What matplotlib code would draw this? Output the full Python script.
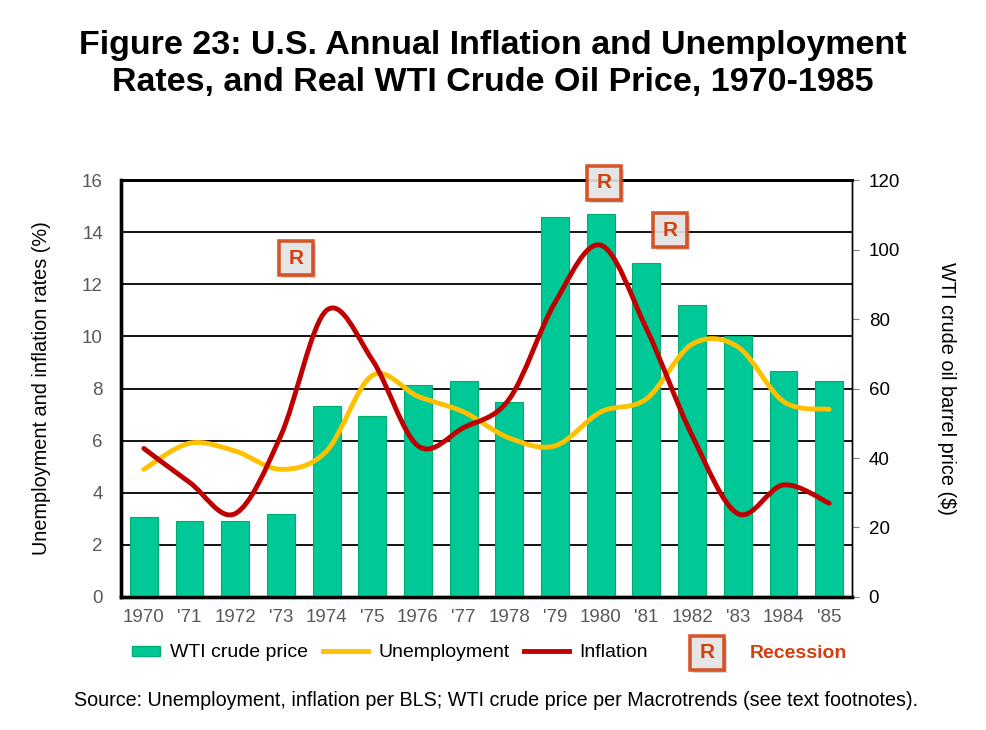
import numpy as np
import matplotlib
matplotlib.use("Agg")
import matplotlib.pyplot as plt
from matplotlib.path import Path
from matplotlib.patches import PathPatch, Rectangle
from matplotlib.lines import Line2D
from matplotlib.legend_handler import HandlerPatch
import matplotlib.transforms as mtransforms

plt.rcParams['font.family'] = ['Liberation Sans', 'DejaVu Sans']

# data
years = ['1970', "'71", '1972', "'73", '1974', "'75", '1976', "'77",
         '1978', "'79", '1980', "'81", '1982', "'83", '1984', "'85"]
wti_price = [23.0, 21.9, 21.9, 23.9, 54.9, 52.1, 60.9, 62.1,
             56.1, 109.3, 110.2, 96.1, 84.0, 75.1, 65.0, 62.1]
unemployment = [4.9, 5.9, 5.6, 4.9, 5.6, 8.5, 7.7, 7.1,
                6.1, 5.8, 7.1, 7.6, 9.7, 9.6, 7.5, 7.2]
inflation = [5.7, 4.4, 3.2, 6.2, 11.0, 9.1, 5.8, 6.5,
             7.6, 11.3, 13.5, 10.3, 6.2, 3.2, 4.3, 3.6]
# recession markers (x in category units, y in % units)
recession_x = [3.33, 10.07, 11.51]
recession_y = [13.0, 15.9, 14.08]

GREEN = '#00C896'
GREEN_EDGE = '#00AD6F'
YELLOW = '#FFC000'
RED = '#C00000'
ORANGE = '#D2400E'


def smooth_path(xs, ys):
    """Excel-like smoothed line: Catmull-Rom segments as cubic Beziers."""
    pts = np.column_stack([xs, ys]).astype(float)
    n = len(pts)
    verts = [pts[0]]
    codes = [Path.MOVETO]
    for i in range(n - 1):
        p0 = pts[i - 1] if i > 0 else pts[i]
        p1 = pts[i]
        p2 = pts[i + 1]
        p3 = pts[i + 2] if i + 2 < n else pts[i + 1]
        c1 = p1 + (p2 - p0) / 6.0
        c2 = p2 - (p3 - p1) / 6.0
        verts += [c1, c2, p2]
        codes += [Path.CURVE4] * 3
    return Path(verts, codes)


def r_box(fig, trans, zorder=10):
    """Draw a small 'R' recession box centred at the point given by trans."""
    s = 0.34
    sh = Rectangle((-s / 2 + 0.03, -s / 2 - 0.03), s, s, transform=trans,
                   facecolor='#808080', edgecolor='none', alpha=0.35,
                   zorder=zorder, clip_on=False)
    box = Rectangle((-s / 2, -s / 2), s, s, transform=trans,
                    facecolor='#E8E8E8', edgecolor=ORANGE, linewidth=2.6,
                    alpha=0.88, zorder=zorder + 0.1, clip_on=False)
    fig.add_artist(sh)
    fig.add_artist(box)
    fig.text(0, 0, 'R', transform=trans, ha='center', va='center',
             fontsize=15, fontweight='bold', color=ORANGE, zorder=zorder + 0.2)


fig = plt.figure(figsize=(9.86, 7.3), dpi=100)
ax = fig.add_axes([0.1227, 0.1822, 0.7414, 0.5712])
ax2 = ax.twinx()

x = np.arange(len(years))

# bars on the right axis, drawn first (behind lines)
ax2.set_zorder(1)
ax.set_zorder(2)
ax.patch.set_visible(False)

ax2.bar(x, wti_price, width=0.61, color=GREEN, edgecolor=GREEN_EDGE,
        linewidth=0.8, zorder=3)
ax2.set_ylim(0, 120)
ax2.set_yticks(np.arange(0, 121, 20))
ax2.tick_params(axis='y', direction='out', length=5, width=0.8,
                color='#808080', labelsize=13.5, labelcolor='black', pad=7)
ax2.set_ylabel('WTI crude oil barrel price ($)', rotation=270, fontsize=14.3,
               labelpad=40)
# gridlines (for left scale) drawn on bar axes so bars cover them
for g in np.arange(2, 17, 2):
    ax2.axhline(g * 7.5, color='black', linewidth=1.3, zorder=1)

ax.add_patch(PathPatch(smooth_path(x, unemployment), fill=False,
                       edgecolor=YELLOW, linewidth=3.5, capstyle='round',
                       zorder=4))
ax.add_patch(PathPatch(smooth_path(x, inflation), fill=False,
                       edgecolor=RED, linewidth=3.5, capstyle='round',
                       zorder=5))

ax.set_xlim(-0.5, len(years) - 0.5)
ax.set_ylim(0, 16)
ax.set_yticks(np.arange(0, 17, 2))
ax.set_xticks(x)
ax.set_xticklabels(years)
ax.tick_params(axis='y', length=0, labelsize=13.5, labelcolor='#595959', pad=13)
ax.tick_params(axis='x', length=0, labelsize=13.5, labelcolor='#595959', pad=9)
ax.set_ylabel('Unemployment and inflation rates (%)', fontsize=14.3, labelpad=22)

for a in (ax, ax2):
    a.spines['left'].set_linewidth(2.4)
    a.spines['bottom'].set_linewidth(2.4)
    a.spines['top'].set_linewidth(2.0)
    a.spines['right'].set_linewidth(1.0)
    for sp in a.spines.values():
        sp.set_color('black')

# recession boxes over the plot
for rx, ry in zip(recession_x, recession_y):
    tr = fig.dpi_scale_trans + mtransforms.ScaledTranslation(rx, ry, ax.transData)
    r_box(fig, tr)

# legend
h_bar = Rectangle((0, 0), 1, 1, facecolor=GREEN, edgecolor=GREEN_EDGE)
h_unemp = Line2D([], [], color=YELLOW, linewidth=3.5)
h_infl = Line2D([], [], color=RED, linewidth=3.5)


def small_rect(legend, orig_handle, xdescent, ydescent, width, height, fontsize):
    w = 20
    return Rectangle((width - w - xdescent, -ydescent + height * 0.1),
                     w, height * 0.75)


leg = fig.legend([h_bar, h_unemp, h_infl],
                 ['WTI crude price', 'Unemployment', 'Inflation'],
                 handler_map={h_bar: HandlerPatch(patch_func=small_rect)},
                 loc='center left', bbox_to_anchor=(115 / 986, 0.106), ncol=3,
                 frameon=False, fontsize=14, handlelength=2.3,
                 handletextpad=0.55, columnspacing=0.75,
                 borderpad=0, borderaxespad=0)

# recession key, placed beside the legend
tr_leg = fig.dpi_scale_trans + mtransforms.ScaledTranslation(
    707 / 986, 1 - 653 / 730, fig.transFigure)
r_box(fig, tr_leg)
fig.text(750 / 986, 1 - 653 / 730, 'Recession', ha='left', va='center',
         fontsize=14, fontweight='bold', color=ORANGE)

fig.text(0.5, 1 - 64 / 730,
         'Figure 23: U.S. Annual Inflation and Unemployment\n'
         'Rates, and Real WTI Crude Oil Price, 1970-1985',
         ha='center', va='center', fontsize=24.5, fontweight='bold',
         linespacing=1.28)
fig.text(0.503, 1 - 701 / 730,
         'Source: Unemployment, inflation per BLS; WTI crude price per '
         'Macrotrends (see text footnotes).',
         ha='center', va='center', fontsize=14.2)

fig.savefig('out.png', dpi=100)
